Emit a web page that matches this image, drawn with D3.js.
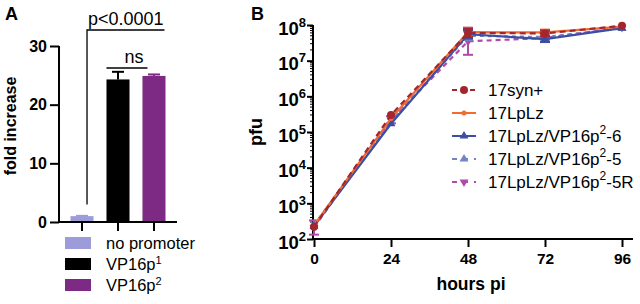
<!DOCTYPE html>
<html>
<head>
<meta charset="utf-8">
<script src="https://cdn.jsdelivr.net/npm/d3@7"></script>
<style>
  body { margin: 0; background: #fff; }
  svg { display: block; font-family: "Liberation Sans", Arial, sans-serif; }
</style>
</head>
<body>
<div id="wrapper"></div>
<script>
// ---- data: panel A ----
const groups = ["no promoter", "VP16p1", "VP16p2"]
const groupBase = ["no promoter", "VP16p", "VP16p"]
const groupSup = ["", "1", "2"]
const foldMean = [1.0, 24.3, 24.9]
const foldErr = [0.05, 1.3, 0.25]
const groupColors = ["#9d9bd9", "#000000", "#7d2a84"]
const foldTicks = [0, 10, 20, 30]

// ---- data: panel B ----
const hours = [0, 24, 48, 72, 96]
const seriesNames = ["17syn+", "17LpLz", "17LpLz/VP16p2-6", "17LpLz/VP16p2-5", "17LpLz/VP16p2-5R"]
const seriesBase = ["17syn+", "17LpLz", "17LpLz/VP16p", "17LpLz/VP16p", "17LpLz/VP16p"]
const seriesSup = ["", "", "2", "2", "2"]
const seriesTail = ["", "", "-6", "-5", "-5R"]
const pfuSyn = [2.2e2, 3.0e5, 6.0e7, 5.8e7, 9.5e7]
const pfuLpLz = [2.4e2, 2.4e5, 6.3e7, 6.2e7, 9.0e7]
const pfuP6 = [2.3e2, 1.7e5, 5.5e7, 4.0e7, 8.2e7]
const pfuP5 = [2.5e2, 2.0e5, 5.0e7, 4.6e7, 8.0e7]
const pfuP5R = [2.1e2, 2.2e5, 3.5e7, 4.3e7, 8.6e7]
const errP5R = [0.2, 0.1, 0.38, 0.05, 0.04] // log10 half-width
const errLpLz = [0.05, 0.05, 0.12, 0.08, 0.04]
const seriesColors = ["#a3262d", "#f26b2f", "#3b4ea3", "#7383c4", "#b04aa8"]
const seriesDash = ["6,4", null, null, "4,4", "5,4"]
const seriesMarker = ["circle", "dot", "triangleUp", "triangleUp", "triangleDown"]
const pfuTicks = [1e2, 1e3, 1e4, 1e5, 1e6, 1e7, 1e8]
const hourTicks = [0, 24, 48, 72, 96]

const width = 640
const height = 304

const svg = d3.select("#wrapper")
    .append("svg")
    .attr("width", width)
    .attr("height", height)

// ================= Panel A =================
const a = { left: 59, right: 177, top: 46, bottom: 222 }

const xA = d3.scaleBand()
    .domain(groups)
    .range([a.left, a.right])
    .paddingInner(0.36)
    .paddingOuter(0.32)

const yA = d3.scaleLinear()
    .domain([0, 30])
    .range([a.bottom, a.top])

const gA = svg.append("g")

gA.selectAll("rect.bar")
    .data(groups)
    .join("rect")
    .attr("class", "bar")
    .attr("x", d => xA(d))
    .attr("width", xA.bandwidth())
    .attr("y", (d, i) => yA(foldMean[i]))
    .attr("height", (d, i) => yA(0) - yA(foldMean[i]))
    .attr("fill", (d, i) => groupColors[i])

// error bars (upper only)
groups.forEach((d, i) => {
    const cx = xA(d) + xA.bandwidth() / 2
    const top = yA(foldMean[i] + foldErr[i])
    gA.append("line")
        .attr("x1", cx).attr("x2", cx)
        .attr("y1", yA(foldMean[i])).attr("y2", top)
        .attr("stroke", groupColors[i]).attr("stroke-width", 2)
    gA.append("line")
        .attr("x1", cx - 6).attr("x2", cx + 6)
        .attr("y1", top).attr("y2", top)
        .attr("stroke", groupColors[i]).attr("stroke-width", 2)
})

const yAxisA = gA.append("g")
    .attr("transform", `translate(${a.left},0)`)
    .call(d3.axisLeft(yA).tickValues(foldTicks).tickSize(9).tickPadding(3))
yAxisA.select(".domain").attr("stroke-width", 2).attr("d", `M-0,${yA(30)}V${yA(0)}`)
yAxisA.selectAll(".tick line").attr("stroke-width", 2)
yAxisA.selectAll(".tick text")
    .attr("font-size", 16).attr("font-weight", "bold")
    .attr("font-family", "Liberation Sans, Arial, sans-serif").attr("fill", "#000")

const xAxisA = gA.append("g")
    .attr("transform", `translate(0,${a.bottom})`)
    .call(d3.axisBottom(xA).tickSize(9).tickFormat(""))
xAxisA.select(".domain").attr("stroke-width", 2).attr("d", `M${a.left},0H${a.right}`)
xAxisA.selectAll(".tick line").attr("stroke-width", 2)

gA.append("text")
    .attr("transform", `translate(16,${(a.top + a.bottom) / 2 - 8}) rotate(-90)`)
    .attr("text-anchor", "middle")
    .attr("font-size", 16).attr("font-weight", "bold")
    .text("fold increase")

// significance brackets
const pX1 = xA(groups[0]) + xA.bandwidth() / 2 + 5
const pX2 = xA(groups[2]) + xA.bandwidth() - 1
gA.append("path")
    .attr("d", `M${pX1},${yA(3)}V30H${pX2}`)
    .attr("fill", "none").attr("stroke", "#000").attr("stroke-width", 1.3)
gA.append("text")
    .attr("x", (pX1 + pX2) / 2).attr("y", 25)
    .attr("text-anchor", "middle").attr("font-size", 18)
    .text("p<0.0001")

const nsX1 = xA(groups[1])
const nsX2 = xA(groups[2]) + 5
gA.append("line")
    .attr("x1", nsX1).attr("x2", nsX2)
    .attr("y1", 68).attr("y2", 68)
    .attr("stroke", "#000").attr("stroke-width", 1.3)
gA.append("text")
    .attr("x", (nsX1 + nsX2) / 2 + 7).attr("y", 63)
    .attr("text-anchor", "middle").attr("font-size", 18)
    .text("ns")

gA.append("text")
    .attr("x", 5).attr("y", 20)
    .attr("font-size", 18).attr("font-weight", "bold")
    .text("A")

// legend A
const legA = gA.append("g").attr("transform", "translate(65,243)")
groups.forEach((d, i) => {
    const row = legA.append("g").attr("transform", `translate(0,${i * 21})`)
    row.append("rect")
        .attr("x", 0).attr("y", -6).attr("width", 26).attr("height", 12)
        .attr("fill", groupColors[i])
    const t = row.append("text").attr("x", 41).attr("y", 6).attr("font-size", 16.5)
    t.append("tspan").text(groupBase[i])
    if (groupSup[i]) t.append("tspan").attr("dy", -6).attr("font-size", 11).text(groupSup[i])
})

// ================= Panel B =================
const b = { left: 313, right: 633, top: 25, bottom: 239 }

const xB = d3.scaleLinear()
    .domain([0, 96])
    .range([314, 622])

const yB = d3.scaleLog()
    .domain([1e2, 1e8])
    .range([b.bottom, b.top])

const gB = svg.append("g")

const yAxisB = gB.append("g")
    .attr("transform", `translate(${b.left},0)`)
    .call(d3.axisLeft(yB).tickValues(pfuTicks).tickSize(6).tickPadding(4).tickFormat(""))
yAxisB.select(".domain").attr("stroke-width", 2).attr("d", `M0,${b.top}V${b.bottom}`)
yAxisB.selectAll(".tick line").attr("stroke-width", 2)

// minor ticks
const minorTicks = []
pfuTicks.slice(0, -1).forEach(p => {
    for (let k = 2; k <= 9; k++) minorTicks.push(p * k)
})
yAxisB.selectAll("line.minor")
    .data(minorTicks)
    .join("line")
    .attr("class", "minor")
    .attr("x1", -3).attr("x2", 0)
    .attr("y1", d => yB(d)).attr("y2", d => yB(d))
    .attr("stroke", "#000").attr("stroke-width", 1)

yAxisB.selectAll(".tick").each(function (d) {
    const t = d3.select(this).append("text")
        .attr("x", -7).attr("dy", "0.5em")
        .attr("text-anchor", "end")
        .attr("fill", "#000")
        .attr("font-size", 18.5).attr("font-weight", "bold")
    t.append("tspan").text("10")
    t.append("tspan").attr("dy", -8).attr("font-size", 13).text(Math.round(Math.log10(d)))
})

const xAxisB = gB.append("g")
    .attr("transform", `translate(0,${b.bottom})`)
    .call(d3.axisBottom(xB).tickValues(hourTicks).tickSize(8).tickPadding(6))
xAxisB.select(".domain").attr("stroke-width", 2).attr("d", `M${b.left},0H${b.right}`)
xAxisB.selectAll(".tick line").attr("stroke-width", 2)
xAxisB.selectAll(".tick text")
    .attr("font-size", 15.5).attr("font-weight", "bold")
    .attr("font-family", "Liberation Sans, Arial, sans-serif").attr("fill", "#000")

gB.append("text")
    .attr("transform", `translate(262,${(b.top + b.bottom) / 2}) rotate(-90)`)
    .attr("text-anchor", "middle")
    .attr("font-size", 18).attr("font-weight", "bold")
    .text("pfu")

gB.append("text")
    .attr("x", 471).attr("y", 290)
    .attr("text-anchor", "middle")
    .attr("font-size", 17.5).attr("font-weight", "bold")
    .text("hours pi")

gB.append("text")
    .attr("x", 251).attr("y", 20)
    .attr("font-size", 18).attr("font-weight", "bold")
    .text("B")

const allSeries = [pfuSyn, pfuLpLz, pfuP6, pfuP5, pfuP5R]
const allErr = [errLpLz, errLpLz, errLpLz, errLpLz, errP5R]

const line = d3.line()
    .x((d, i) => xB(hours[i]))
    .y(d => yB(d))

function drawMarker (g, kind, color, x, y) {
    if (kind === "circle") {
        g.append("circle").attr("cx", x).attr("cy", y).attr("r", 4).attr("fill", color)
    } else if (kind === "dot") {
        g.append("circle").attr("cx", x).attr("cy", y).attr("r", 2.5).attr("fill", color)
    } else {
        const sym = d3.symbol().type(d3.symbolTriangle).size(34)
        g.append("path")
            .attr("d", sym())
            .attr("transform", `translate(${x},${y})` + (kind === "triangleDown" ? " rotate(180)" : ""))
            .attr("fill", color)
    }
}

// draw in reverse order so 17syn+ is on top
d3.range(allSeries.length).reverse().forEach(s => {
    const vals = allSeries[s]
    const color = seriesColors[s]
    const g = gB.append("g")
    // error bars
    vals.forEach((v, i) => {
        const e = allErr[s][i]
        if (e < 0.06) return
        const x = xB(hours[i])
        const y1 = yB(v * Math.pow(10, e))
        const y2 = yB(v / Math.pow(10, e))
        g.append("line").attr("x1", x).attr("x2", x).attr("y1", y1).attr("y2", y2)
            .attr("stroke", color).attr("stroke-width", 2)
        ;[y1, y2].forEach(yy => g.append("line")
            .attr("x1", x - 5).attr("x2", x + 5).attr("y1", yy).attr("y2", yy)
            .attr("stroke", color).attr("stroke-width", 2))
    })
    g.append("path")
        .datum(vals)
        .attr("d", line)
        .attr("fill", "none")
        .attr("stroke", color)
        .attr("stroke-width", 2.2)
        .attr("stroke-dasharray", seriesDash[s])
    vals.forEach((v, i) => drawMarker(g, seriesMarker[s], color, xB(hours[i]), yB(v)))
})

// legend B
const legB = gB.append("g").attr("transform", "translate(452,90)")
seriesNames.forEach((d, i) => {
    const row = legB.append("g").attr("transform", `translate(0,${i * 23})`)
    row.append("line")
        .attr("x1", 0).attr("x2", 24).attr("y1", 0).attr("y2", 0)
        .attr("stroke", seriesColors[i]).attr("stroke-width", 2)
        .attr("stroke-dasharray", seriesDash[i] ? (i >= 3 ? "5,6" : "5,4") : null)
    drawMarker(row, seriesMarker[i], seriesColors[i], 12, 0)
    const t = row.append("text").attr("x", 36).attr("y", 6).attr("font-size", 17)
    t.append("tspan").text(seriesBase[i])
    if (seriesSup[i]) {
        t.append("tspan").attr("dy", -8).attr("font-size", 12).text(seriesSup[i])
        t.append("tspan").attr("dy", 8).text(seriesTail[i])
    }
})
</script>
</body>
</html>
